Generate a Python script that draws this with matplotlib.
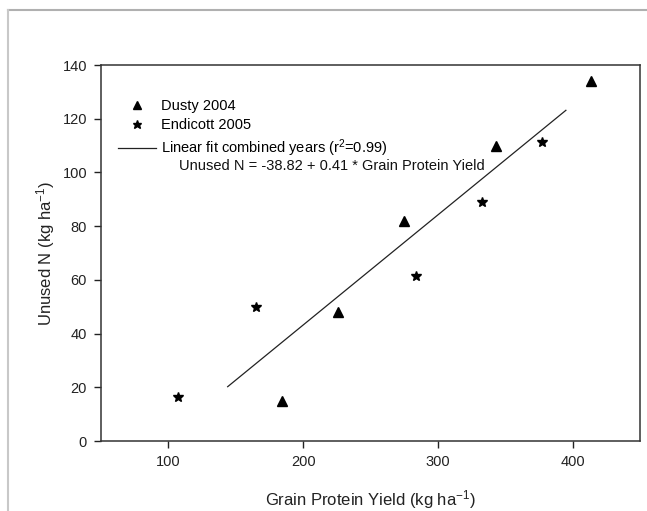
import matplotlib
matplotlib.use("Agg")
import matplotlib.pyplot as plt
from matplotlib.lines import Line2D

plt.rcParams['font.family'] = ['Liberation Sans', 'DejaVu Sans']

# --- data ---
dusty_x = [184, 226, 275, 343, 414]
dusty_y = [15, 48, 82, 110, 134]
endi_x = [107, 165, 284, 333, 377]
endi_y = [16.5, 50, 61.5, 89, 111.5]

fit_x = [144, 395]
intercept, slope = -38.82, 0.41
fit_y = [intercept + slope * x for x in fit_x]

xticks = [100, 200, 300, 400]
yticks = [0, 20, 40, 60, 80, 100, 120, 140]

fig = plt.figure(figsize=(6.47, 5.11), dpi=100)
ax = fig.add_axes([101 / 647, 1 - 441 / 511, 539 / 647, 376 / 511])

# outer grey frame of the original figure
fig.add_artist(Line2D([8 / 647, 1], [1 - 10 / 511] * 2, color='#b0b0b0', lw=1.5))
fig.add_artist(Line2D([8 / 647] * 2, [0, 1 - 10 / 511], color='#c8c8c8', lw=1.5))

ax.plot(dusty_x, dusty_y, '^', color='black', ms=7, ls='none', label='Dusty 2004')
ax.plot(endi_x, endi_y, '*', color='black', ms=7.5, ls='none', label='Endicott 2005')
ax.plot(fit_x, fit_y, '-', color='#222222', lw=0.9,
        label=r'Linear fit combined years ($\mathregular{r^2}$=0.99)')

ax.set_xlim(50, 450)
ax.set_ylim(0, 140)
ax.set_xticks(xticks)
ax.set_yticks(yticks)
ax.tick_params(direction='out', length=5, width=1, labelsize=10.5, colors='#222222', pad=5)
for s in ax.spines.values():
    s.set_color('#333333')
    s.set_linewidth(1.1)

ax.set_xlabel(r'Grain Protein Yield (kg ha$\mathregular{^{-1}}$)', fontsize=12,
              labelpad=14, color='#222222')
ax.set_ylabel(r'Unused N (kg ha$\mathregular{^{-1}}$)', fontsize=12,
              labelpad=4, color='#222222')

leg = ax.legend(loc='upper left', bbox_to_anchor=(0.02, 0.925), frameon=False,
                fontsize=10.5, handlelength=2.6, handletextpad=0.35, labelspacing=0.35,
                borderaxespad=0, markerscale=0.85)
fig.text(179 / 647, 1 - 170 / 511, 'Unused N = -38.82 + 0.41 * Grain Protein Yield',
         fontsize=10.5, color='#111111')

fig.savefig('out.png', dpi=100)
